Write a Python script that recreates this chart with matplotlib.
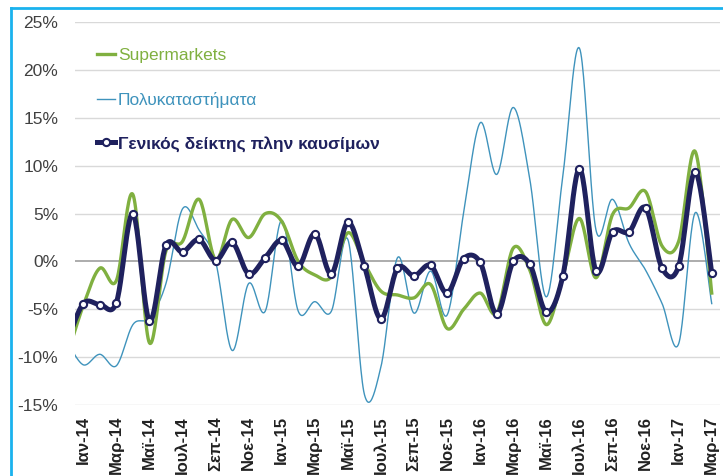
import numpy as np
import matplotlib
matplotlib.use("Agg")
import matplotlib.pyplot as plt
from matplotlib.lines import Line2D

plt.rcParams['font.family'] = ['Liberation Sans', 'DejaVu Sans']

# months Jan-14 .. Mar-17 (a Dec-13 value leads in, clipped at the left edge)
mon = ["Ιαν", "Φεβ", "Μαρ", "Απρ", "Μαϊ", "Ιουν", "Ιουλ", "Αυγ", "Σεπ", "Οκτ", "Νοε", "Δεκ"]
labels = [mon[i % 12] + "-" + str(14 + i // 12) for i in range(39)]

lead_super = -10.0
lead_poly = -8.3
lead_gen = -8.5

supermarkets = [-4.6, -0.7, -2.0, 7.0, -8.5, 1.1, 2.1, 6.5, 0.2, 4.4, 2.5, 5.0, 4.2,
                0.0, -1.4, -1.6, 3.0, -0.2, -3.1, -3.5, -3.8, -2.4, -7.0, -5.0, -3.3,
                -5.4, 1.4, -0.9, -6.6, -1.5, 4.5, -1.7, 4.9, 5.6, 7.3, 1.6, 2.1, 11.5, -3.3]
polykatastimata = [-10.8, -9.7, -10.9, -6.6, -5.9, -2.3, 5.5, 3.3, 0.0, -9.3, -2.3, -5.2, 4.3,
                   -5.2, -4.2, -5.2, 2.3, -13.9, -11.0, 0.4, -5.4, -1.0, -5.6, 5.1, 14.5,
                   9.1, 16.1, 8.6, -3.7, 9.0, 22.3, 3.3, 6.5, 1.9, -0.9, -4.4, -8.6, 5.1, -4.4]
genikos = [-4.4, -4.5, -4.3, 5.0, -6.2, 1.7, 1.0, 2.3, 0.1, 2.0, -1.3, 0.4, 2.2,
           -0.5, 2.9, -1.3, 4.1, -0.5, -6.0, -0.7, -1.5, -0.4, -3.3, 0.3, -0.1,
           -5.5, 0.0, -0.3, -5.3, -1.5, 9.7, -1.0, 3.1, 3.1, 5.6, -0.7, -0.5, 9.4, -1.2]


def smooth(xs, ys, n=24):
    # catmull-rom like excel "smoothed line"
    xs = np.asarray(xs, float)
    ys = np.asarray(ys, float)
    out_x, out_y = [], []
    k = len(xs)
    for i in range(k - 1):
        p0 = i - 1 if i > 0 else i
        p3 = i + 2 if i + 2 < k else i + 1
        mx1 = (xs[i + 1] - xs[p0]) / 2
        my1 = (ys[i + 1] - ys[p0]) / 2
        mx2 = (xs[p3] - xs[i]) / 2
        my2 = (ys[p3] - ys[i]) / 2
        t = np.linspace(0, 1, n, endpoint=False)
        h00 = 2 * t**3 - 3 * t**2 + 1
        h10 = t**3 - 2 * t**2 + t
        h01 = -2 * t**3 + 3 * t**2
        h11 = t**3 - t**2
        out_x.extend(h00 * xs[i] + h10 * mx1 + h01 * xs[i + 1] + h11 * mx2)
        out_y.extend(h00 * ys[i] + h10 * my1 + h01 * ys[i + 1] + h11 * my2)
    out_x.append(xs[-1])
    out_y.append(ys[-1])
    return np.array(out_x), np.array(out_y)


x = np.arange(len(labels))
xl = np.arange(-1, len(labels))

c_green = "#80B040"
c_blue = "#3F93BC"
c_navy = "#1F215E"

fig = plt.figure(figsize=(7.23, 4.76), dpi=100)
ax = fig.add_axes([75 / 723, 1 - 405 / 476, 645 / 723, (405 - 22.3) / 476])

for v in [-15, -10, -5, 5, 10, 15, 20, 25]:
    ax.axhline(v, color="#D9D9D9", lw=1, zorder=0)
ax.axhline(0, color="#A6A6A6", lw=1.3, zorder=1)

sx, sy = smooth(xl, [lead_poly] + polykatastimata)
ax.plot(sx, sy, color=c_blue, lw=1.0, zorder=2)
sx, sy = smooth(xl, [lead_super] + supermarkets)
ax.plot(sx, sy, color=c_green, lw=2.4, zorder=3)
sx, sy = smooth(xl, [lead_gen] + genikos)
ax.plot(sx, sy, color=c_navy, lw=3.6, zorder=4, solid_capstyle="round")
ax.plot(x, genikos, ls="none", marker="o", ms=5.2, mfc="white", mec=c_navy, mew=1.5, zorder=5)

ax.set_xlim(-0.5, len(labels) - 0.5)
ax.set_ylim(-15, 25)
ax.set_yticks(range(-15, 30, 5))
ax.set_yticklabels([f"{v}%" for v in range(-15, 30, 5)], fontsize=12.5, color="#404040")
ax.set_xticks(x[::2])
ax.set_xticklabels(labels[::2], rotation=90, fontsize=12, fontweight="bold", color="#222222")
ax.tick_params(axis="both", length=0)
ax.tick_params(axis="y", pad=12)
ax.tick_params(axis="x", pad=8)
for s in ax.spines.values():
    s.set_visible(False)

handles = [Line2D([], [], color=c_green, lw=2.4),
           Line2D([], [], color=c_blue, lw=1.0),
           Line2D([], [], color=c_navy, lw=3.6, marker="o", ms=5.2, mfc="white", mec=c_navy, mew=1.5)]
names = ["Supermarkets", "Πολυκαταστήματα", "Γενικός δείκτης πλην καυσίμων"]
leg = ax.legend(handles, names, loc="upper left", bbox_to_anchor=(0.034, 0.932),
                frameon=False, fontsize=12.5, handlelength=1.05, handletextpad=0.15,
                labelspacing=1.62, borderpad=0, borderaxespad=0)
for t, c in zip(leg.get_texts(), [c_green, c_blue, c_navy]):
    t.set_color(c)
leg.get_texts()[2].set_fontweight("bold")

# cyan frame (left and top edges visible)
fig.add_artist(Line2D([11 / 723, 11 / 723], [0, 1 - 8 / 476], color="#1AB2EE", lw=2))
fig.add_artist(Line2D([11 / 723, 1], [1 - 8 / 476, 1 - 8 / 476], color="#1AB2EE", lw=2))

fig.savefig("out.png", dpi=100)
